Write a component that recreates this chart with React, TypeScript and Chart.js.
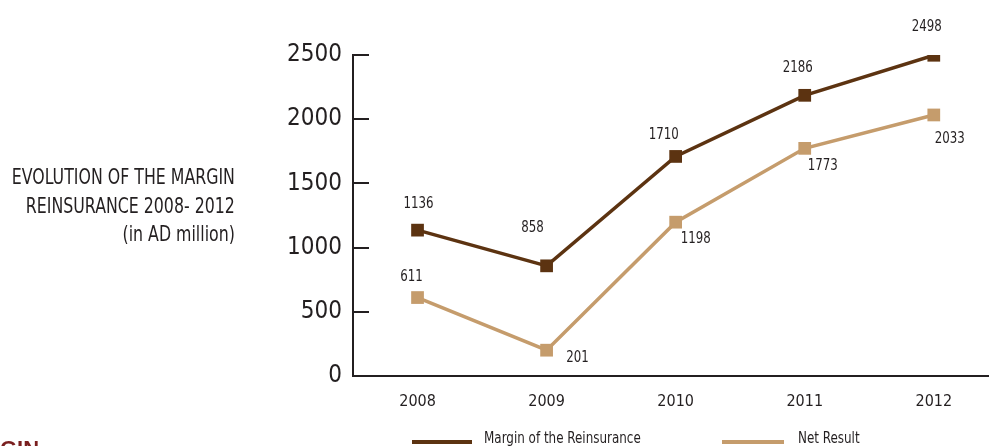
import React, { useEffect, useRef } from "react";
import { Chart, registerables } from "chart.js";

Chart.register(...registerables);

const years = ["2008", "2009", "2010", "2011", "2012"];
const marginValues = [1136, 858, 1710, 2186, 2498];
const netValues = [611, 201, 1198, 1773, 2033];
const yTicks = [0, 500, 1000, 1500, 2000, 2500];
const seriesNames = ["Margin of the Reinsurance", "Net Result"];
const titleLines = ["EVOLUTION OF THE MARGIN", "REINSURANCE 2008- 2012", "(in AD million)"];

const DARK = "#5c3311";
const TAN = "#c59c6c";
const TEXT = "#231f20";
const FONT = "'DejaVu Sans Condensed', 'Liberation Sans Narrow', sans-serif";

// label placement (dx, dy from the marker), per series
const labelPlacement = [
  [[1, -26], [-14, -38], [-12, -22], [-7, -27], [-7, -28]],
  [[-6, -21], [31, 8], [20, 17], [18, 17], [16, 24]],
];

const valueLabels = {
  id: "valueLabels",
  afterDatasetsDraw(chart: any) {
    const ctx = chart.ctx;
    chart.data.datasets.forEach((ds: any, di: number) => {
      const meta = chart.getDatasetMeta(di);
      meta.data.forEach((pt: any, i: number) => {
        const [dx, dy] = labelPlacement[di][i];
        ctx.save();
        ctx.translate(pt.x + dx, pt.y + dy);
        ctx.scale(0.82, 1);
        ctx.font = `16px ${FONT}`;
        ctx.fillStyle = TEXT;
        ctx.textAlign = "center";
        ctx.textBaseline = "middle";
        ctx.fillText(String(ds.data[i].y), 0, 0);
        ctx.restore();
      });
    });
  },
};

export default function App() {
  const ref = useRef<HTMLCanvasElement>(null);
  useEffect(() => {
    const chart = new Chart(ref.current!, {
      type: "line",
      data: {
        datasets: [
          {
            label: seriesNames[0],
            data: marginValues.map((v, i) => ({ x: i, y: v })),
            borderColor: DARK,
            backgroundColor: DARK,
            borderWidth: 3.5,
            pointStyle: "rect",
            pointRadius: 9,
            pointBorderWidth: 0,
          },
          {
            label: seriesNames[1],
            data: netValues.map((v, i) => ({ x: i, y: v })),
            borderColor: TAN,
            backgroundColor: TAN,
            borderWidth: 3.5,
            pointStyle: "rect",
            pointRadius: 9,
            pointBorderWidth: 0,
          },
        ],
      },
      options: {
        animation: false,
        responsive: false,
        devicePixelRatio: 1,
        layout: { autoPadding: false, padding: { left: 0, right: 2, top: 55, bottom: 0 } },
        plugins: { legend: { display: false }, tooltip: { enabled: false } },
        scales: {
          x: {
            type: "linear",
            min: -0.5,
            max: 4.42,
            afterBuildTicks: (s: any) => {
              s.ticks = years.map((_, i) => ({ value: i }));
            },
            afterFit: (s: any) => {
              s.height = 70;
            },
            grid: { display: false, drawTicks: false },
            border: { display: true, color: TEXT, width: 2 },
            ticks: {
              padding: 16,
              color: TEXT,
              font: { family: FONT, size: 16 },
              callback: (v: any) => years[v] ?? "",
              maxRotation: 0,
            },
          },
          y: {
            min: 0,
            max: 2500,
            afterBuildTicks: (s: any) => {
              s.ticks = yTicks.map((v) => ({ value: v }));
            },
            afterFit: (s: any) => {
              s.width = 353;
            },
            grid: {
              display: true,
              drawOnChartArea: false,
              drawTicks: true,
              tickLength: -16,
              color: TEXT,
              lineWidth: 2,
            },
            border: { display: true, color: TEXT, width: 2 },
            ticks: {
              padding: 27,
              color: TEXT,
              font: { family: FONT, size: 24 },
              callback: (v: any) => String(v),
            },
          },
        },
      },
      plugins: [valueLabels],
    } as any);
    return () => chart.destroy();
  }, []);

  const legendLines = [
    { left: 412, width: 60, textLeft: 484 },
    { left: 722, width: 62, textLeft: 798 },
  ];

  return (
    <div
      style={{
        position: "fixed",
        left: 0,
        top: 0,
        width: 990,
        height: 446,
        overflow: "hidden",
        background: "#fff",
        fontFamily: FONT,
        color: TEXT,
      }}
    >
      <canvas ref={ref} width={990} height={446} style={{ position: "absolute", left: 0, top: 0 }} />
      <div
        style={{
          position: "absolute",
          right: 990 - 235,
          top: 163,
          textAlign: "right",
          fontSize: 21,
          lineHeight: "28.5px",
          whiteSpace: "nowrap",
          transform: "scaleX(0.836)",
          transformOrigin: "right center",
        }}
      >
        {titleLines.map((t) => (
          <div key={t}>{t}</div>
        ))}
      </div>
      <div
        style={{
          position: "absolute",
          left: 0,
          top: 438,
          fontSize: 22,
          lineHeight: "22px",
          fontWeight: "bold",
          color: "#7a1f1f",
          fontFamily: "'Liberation Sans', sans-serif",
        }}
      >
        GIN
      </div>
      {seriesNames.map((name, i) => (
        <React.Fragment key={name}>
          <div
            style={{
              position: "absolute",
              left: legendLines[i].left,
              top: 440,
              width: legendLines[i].width,
              height: 4,
              background: i === 0 ? DARK : TAN,
            }}
          />
          <div
            style={{
              position: "absolute",
              left: legendLines[i].textLeft,
              top: 428,
              fontSize: 16,
              lineHeight: "20px",
              whiteSpace: "nowrap",
              transform: "scaleX(0.83)",
              transformOrigin: "left center",
            }}
          >
            {name}
          </div>
        </React.Fragment>
      ))}
    </div>
  );
}
